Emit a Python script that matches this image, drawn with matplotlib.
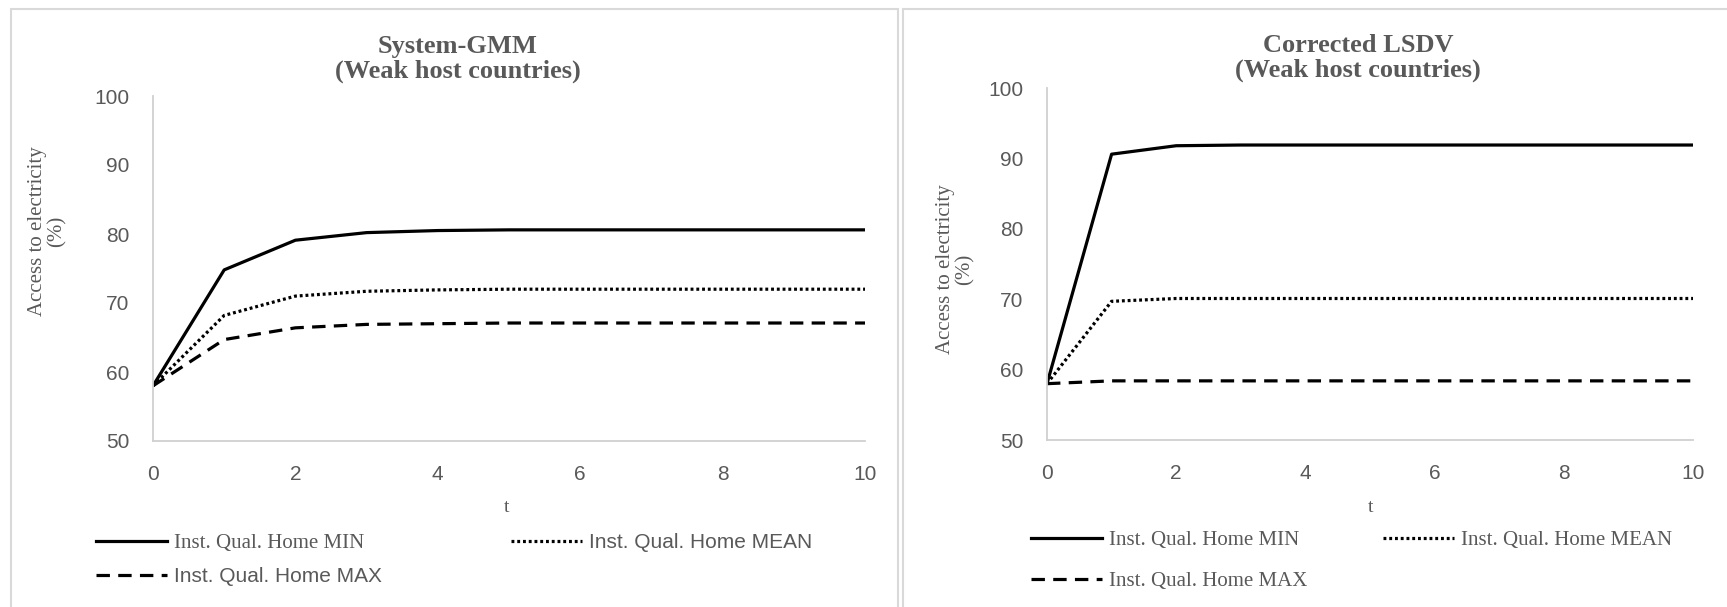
import matplotlib
matplotlib.use("Agg")
import matplotlib.pyplot as plt
from matplotlib.lines import Line2D
from matplotlib.patches import Rectangle

# data
t = [0, 1, 2, 3, 4, 5, 6, 7, 8, 9, 10]

gmm_min = [58.0, 74.8, 79.1, 80.2, 80.5, 80.6, 80.6, 80.6, 80.6, 80.6, 80.6]
gmm_mean = [58.0, 68.2, 71.0, 71.7, 71.9, 72.0, 72.0, 72.0, 72.0, 72.0, 72.0]
gmm_max = [58.0, 64.7, 66.4, 66.9, 67.0, 67.1, 67.1, 67.1, 67.1, 67.1, 67.1]

lsdv_min = [58.0, 90.6, 91.8, 91.9, 91.9, 91.9, 91.9, 91.9, 91.9, 91.9, 91.9]
lsdv_mean = [58.0, 69.7, 70.1, 70.1, 70.1, 70.1, 70.1, 70.1, 70.1, 70.1, 70.1]
lsdv_max = [58.0, 58.4, 58.4, 58.4, 58.4, 58.4, 58.4, 58.4, 58.4, 58.4, 58.4]

labels = ["Inst. Qual. Home MIN", "Inst. Qual. Home MEAN", "Inst. Qual. Home MAX"]
titles = ["System-GMM\n(Weak host countries)", "Corrected LSDV\n(Weak host countries)"]
ylabel = "Access to electricity\n(%)"

W, H = 1727, 607
SERIF = ["Liberation Serif", "DejaVu Serif"]
NARROW = ["Liberation Sans Narrow", "Liberation Sans", "DejaVu Sans"]
GRAY = "#595959"

styles = [
    dict(color="black", lw=2.3, ls="-"),
    dict(color="black", lw=2.3, ls=(0, (0.9, 0.9))),
    dict(color="black", lw=2.3, ls=(0, (4.2, 2.6))),
]

fig = plt.figure(figsize=(W / 100, H / 100), dpi=100)

# light gray panel frames
fig.patches.append(Rectangle((11 / W, -0.05), (898 - 11) / W, 1.05 - 9 / H,
                             transform=fig.transFigure, fill=False,
                             edgecolor="#d9d9d9", lw=1.5))
fig.patches.append(Rectangle((903 / W, -0.05), (1740 - 903) / W, 1.05 - 9 / H,
                             transform=fig.transFigure, fill=False,
                             edgecolor="#d9d9d9", lw=1.5))


def fx(px):
    return px / W


def fy(py):
    return 1 - py / H


def panel(rect, series, title, title_xy, ylab_xy, t_xy, leg_pos, leg_fonts):
    ax = fig.add_axes(rect)
    for y, st in zip(series, styles):
        ax.plot(t, y, solid_capstyle="butt", dash_capstyle="butt", **st)
    ax.set_xlim(0, 10)
    ax.set_ylim(50, 100)
    ax.set_xticks(range(0, 11, 2))
    ax.set_yticks(range(50, 101, 10))
    for s in ["top", "right"]:
        ax.spines[s].set_visible(False)
    for s in ["left", "bottom"]:
        ax.spines[s].set_color("#d0d0d0")
        ax.spines[s].set_linewidth(1.3)
    ax.tick_params(length=0, labelsize=15, colors=GRAY, pad=17)
    ax.tick_params(axis="y", pad=17)
    for lab in ax.get_xticklabels() + ax.get_yticklabels():
        lab.set_fontfamily(NARROW)
    fig.text(fx(title_xy[0]), fy(title_xy[1]), title, ha="center", va="center",
             fontsize=19, fontweight="bold", family=SERIF, color=GRAY,
             linespacing=1.05)
    fig.text(fx(ylab_xy[0]), fy(ylab_xy[1]), ylabel, ha="center", va="center",
             rotation=90, fontsize=15, family=SERIF, color=GRAY,
             linespacing=1.0)
    fig.text(fx(t_xy[0]), fy(t_xy[1]), "t", ha="center", va="center",
             fontsize=14, family=SERIF, color=GRAY)
    for i in range(3):
        h = Line2D([], [], **styles[i])
        lg = fig.legend([h], [labels[i]], loc="center left",
                        bbox_to_anchor=(fx(leg_pos[i][0]), fy(leg_pos[i][1])),
                        frameon=False, borderpad=0, borderaxespad=0,
                        handlelength=3.4, handletextpad=0.35,
                        prop=dict(family=leg_fonts[i], size=15))
        for tx in lg.get_texts():
            tx.set_color(GRAY)
    return ax


panel([fx(153), fy(441), fx(865) - fx(153), fy(96) - fy(441)],
      [gmm_min, gmm_mean, gmm_max], titles[0],
      (458, 59), (47, 231), (507, 508),
      [(96, 543), (511, 543), (96, 577)],
      [SERIF, NARROW, NARROW])

panel([fx(1047), fy(440), fx(1693) - fx(1047), fy(88) - fy(440)],
      [lsdv_min, lsdv_mean, lsdv_max], titles[1],
      (1358, 58), (955, 269), (1371, 507),
      [(1031, 540), (1383, 540), (1031, 581)],
      [SERIF, SERIF, SERIF])

fig.savefig("out.png", dpi=100)
